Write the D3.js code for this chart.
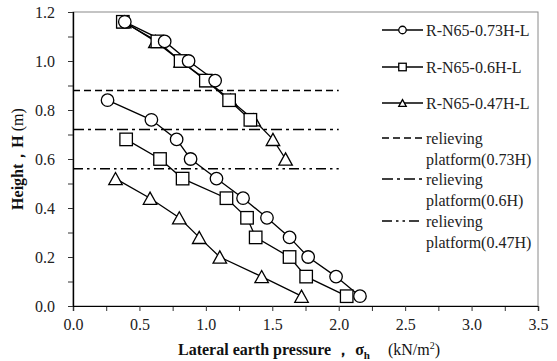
<!DOCTYPE html>
<html>
<head>
<meta charset="utf-8">
<script src="https://cdn.jsdelivr.net/npm/d3@7"></script>
<style>
  html, body { margin: 0; padding: 0; background: #fff; }
  svg { display: block; font-family: "Liberation Serif", "Times New Roman", serif; }
  svg text { font-family: "Liberation Serif", "Times New Roman", serif; }
</style>
</head>
<body>
<svg id="chart" width="557" height="361"></svg>
<script>
// Heights of the measuring points (m)
const heights = [1.16, 1.08, 1.00, 0.92, 0.84, 0.76, 0.68, 0.60, 0.52, 0.44, 0.36, 0.28, 0.20, 0.12, 0.04];

// Lateral earth pressure (kN/m2), split above / below each relieving platform
const p073Upper = [0.39, 0.69, 0.87, 1.07];
const p073Lower = [0.26, 0.59, 0.78, 0.885, 1.08, 1.28, 1.46, 1.63, 1.77, 1.98, 2.16];
const p060Upper = [0.375, 0.635, 0.81, 1.00, 1.175, 1.335];
const p060Lower = [0.40, 0.655, 0.825, 1.155, 1.31, 1.375, 1.63, 1.755, 2.06];
const p047Upper = [0.385, 0.62, 0.81, 1.01, 1.185, 1.36, 1.505, 1.60];
const p047Lower = [0.32, 0.58, 0.80, 0.95, 1.105, 1.42, 1.72];

// Relieving platform levels (m)
const platformLevels = [0.88, 0.72, 0.56];
const platformExtent = 2.0;

const seriesNames = ["R-N65-0.73H-L", "R-N65-0.6H-L", "R-N65-0.47H-L"];
const platformNames = [["relieving", "platform(0.73H)"], ["relieving", "platform(0.6H)"], ["relieving", "platform(0.47H)"]];

const xTicks = [0, 0.5, 1.0, 1.5, 2.0, 2.5, 3.0, 3.5];
const yTicks = [0, 0.2, 0.4, 0.6, 0.8, 1.0, 1.2];

const svg = d3.select("#chart");
const plotLeft = 73, plotRight = 538, plotTop = 12, plotBottom = 306;
const serif = "Liberation Serif";

const x = d3.scaleLinear().domain([0, 3.5]).range([plotLeft, plotRight]);
const y = d3.scaleLinear().domain([0, 1.2]).range([plotBottom, plotTop]);

// plot frame
svg.append("rect")
  .attr("x", plotLeft).attr("y", plotTop)
  .attr("width", plotRight - plotLeft).attr("height", plotBottom - plotTop)
  .attr("fill", "none").attr("stroke", "#8a8a8a").attr("stroke-width", 1);

// axes
const xAxis = d3.axisBottom(x).tickValues(xTicks).tickFormat(d3.format(".1f")).tickSize(5).tickPadding(8);
const xMinor = d3.axisBottom(x).tickValues(d3.range(0.25, 3.5, 0.5)).tickFormat("").tickSize(5);
const yAxis = d3.axisLeft(y).tickValues(yTicks).tickFormat(d3.format(".1f")).tickSize(5).tickPadding(13);
const yMinor = d3.axisLeft(y).tickValues(d3.range(0.1, 1.2, 0.2)).tickFormat("").tickSize(5);

function styleAxis(g) {
  g.attr("font-family", serif);
  g.select(".domain").attr("stroke", "#000").attr("stroke-width", 1.2);
  g.selectAll(".tick line").attr("stroke", "#333");
  g.selectAll(".tick text").attr("font-family", serif).attr("font-size", 16).attr("fill", "#222");
}
svg.append("g").attr("transform", `translate(0,${plotBottom})`).call(xMinor).call(styleAxis);
svg.append("g").attr("transform", `translate(0,${plotBottom})`).call(xAxis).call(styleAxis);
svg.append("g").attr("transform", `translate(${plotLeft},0)`).call(yMinor).call(styleAxis);
svg.append("g").attr("transform", `translate(${plotLeft},0)`).call(yAxis).call(styleAxis);

// relieving platform lines
const dashes = ["7,4", "11,4,3,4", "10,4,2.5,4,2.5,4"];
platformLevels.forEach((lv, i) => {
  svg.append("line")
    .attr("x1", x(0)).attr("x2", x(platformExtent))
    .attr("y1", y(lv)).attr("y2", y(lv))
    .attr("stroke", "#000").attr("stroke-width", 1.5)
    .attr("stroke-dasharray", dashes[i]);
});

const line = d3.line().x(d => x(d[0])).y(d => y(d[1]));

function pairs(vals, startIdx) {
  return vals.map((v, i) => [v, heights[startIdx + i]]);
}

const groups = [
  { shape: "circle", parts: [pairs(p073Upper, 0), pairs(p073Lower, 4)] },
  { shape: "square", parts: [pairs(p060Upper, 0), pairs(p060Lower, 6)] },
  { shape: "triangle", parts: [pairs(p047Upper, 0), pairs(p047Lower, 8)] }
];

function drawMarker(g, shape, cx, cy, s) {
  if (shape === "circle") {
    g.append("circle").attr("cx", cx).attr("cy", cy).attr("r", s / 2)
      .attr("fill", "#fff").attr("stroke", "#000").attr("stroke-width", 1.3);
  } else if (shape === "square") {
    g.append("rect").attr("x", cx - s / 2).attr("y", cy - s / 2).attr("width", s).attr("height", s)
      .attr("fill", "#fff").attr("stroke", "#000").attr("stroke-width", 1.3);
  } else {
    const h = s * 0.9;
    g.append("path")
      .attr("d", `M${cx},${cy - h / 2}L${cx + s / 2},${cy + h / 2}L${cx - s / 2},${cy + h / 2}Z`)
      .attr("fill", "#fff").attr("stroke", "#000").attr("stroke-width", 1.3);
  }
}

// lines first, then markers on top (draw in reverse so circles end on top)
groups.slice().reverse().forEach(gp => {
  gp.parts.forEach(pts => {
    svg.append("path").attr("d", line(pts)).attr("fill", "none")
      .attr("stroke", "#000").attr("stroke-width", 1.3);
  });
});
groups.slice().reverse().forEach(gp => {
  const g = svg.append("g");
  gp.parts.forEach(pts => {
    pts.forEach(d => drawMarker(g, gp.shape, x(d[0]), y(d[1]), gp.shape === "triangle" ? 13.5 : 12.5));
  });
});

// legend
const lx1 = 382, lx2 = 423, tx = 426;
const seriesRowY = [30, 67, 103];
groups.forEach((gp, i) => {
  const yy = seriesRowY[i];
  svg.append("line").attr("x1", lx1).attr("x2", lx2).attr("y1", yy).attr("y2", yy)
    .attr("stroke", "#000").attr("stroke-width", 1.3);
  drawMarker(svg, gp.shape, (lx1 + lx2) / 2, yy, 7.5);
  svg.append("text").attr("x", tx).attr("y", yy + 5.5).attr("font-family", serif)
    .attr("font-size", 16).attr("fill", "#222").text(seriesNames[i]);
});
const platRowY = [138, 179, 221];
platformNames.forEach((nm, i) => {
  const yy = platRowY[i];
  svg.append("line").attr("x1", lx1).attr("x2", lx2).attr("y1", yy).attr("y2", yy)
    .attr("stroke", "#000").attr("stroke-width", 1.5).attr("stroke-dasharray", dashes[i]);
  svg.append("text").attr("x", tx).attr("y", yy + 5.5).attr("font-family", serif)
    .attr("font-size", 16).attr("fill", "#222").text(nm[0]);
  svg.append("text").attr("x", tx).attr("y", yy + 27).attr("font-family", serif)
    .attr("font-size", 16).attr("fill", "#222").text(nm[1]);
});

// axis titles
const xt = svg.append("text").attr("x", 178).attr("y", 355).attr("font-family", serif)
  .attr("font-size", 16).attr("fill", "#111");
xt.append("tspan").attr("font-weight", "bold").text("Lateral earth pressure ， σ");
xt.append("tspan").attr("font-weight", "bold").attr("font-size", 11).attr("dy", 4).text("h");
xt.append("tspan").attr("dy", -4).attr("dx", 18).text("(kN/m");
xt.append("tspan").attr("font-size", 10).attr("dy", -6).text("2");
xt.append("tspan").attr("dy", 6).text(")");

const yt = svg.append("text").attr("font-family", serif)
  .attr("transform", `translate(23,${(plotTop + plotBottom) / 2}) rotate(-90)`)
  .attr("text-anchor", "middle").attr("font-size", 16).attr("fill", "#111");
yt.append("tspan").attr("font-weight", "bold").text("Height，H ");
yt.append("tspan").text(" (m)");
</script>
</body>
</html>
